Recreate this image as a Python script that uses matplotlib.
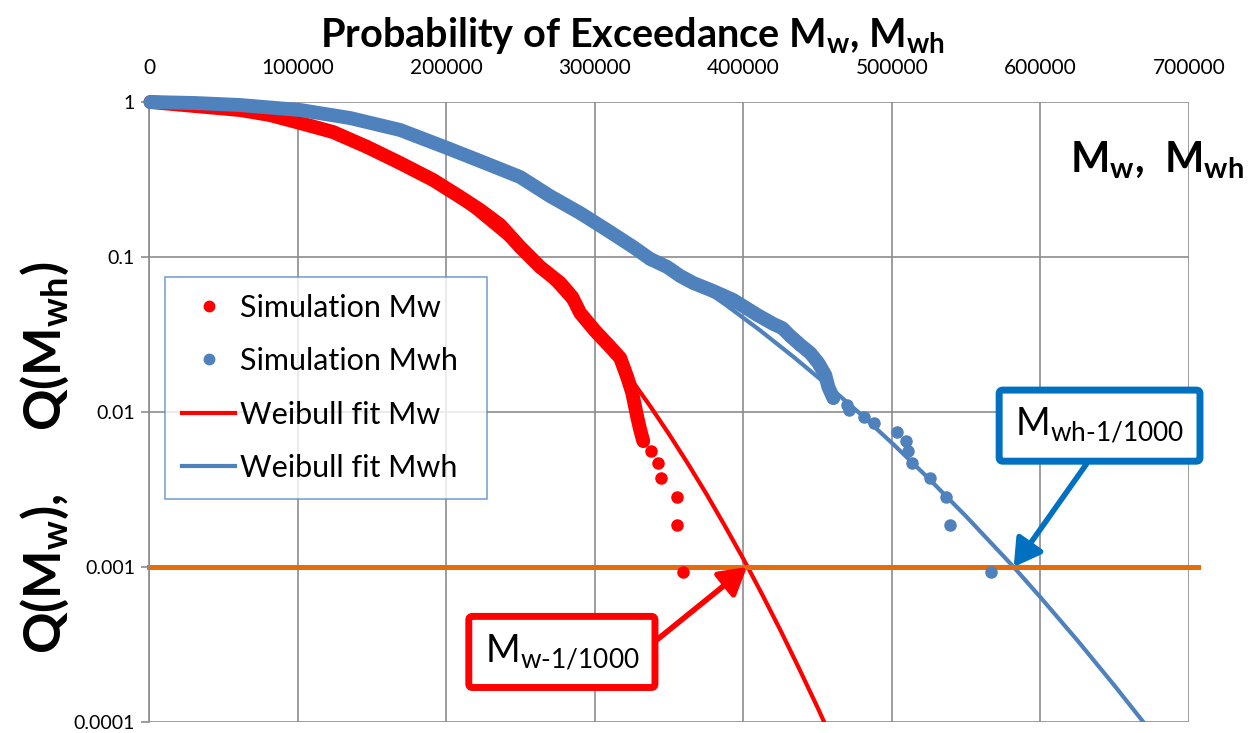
import matplotlib
matplotlib.use('Agg')
import matplotlib.pyplot as plt
from matplotlib.lines import Line2D
from matplotlib.ticker import FixedLocator, FixedFormatter

plt.rcParams['font.family'] = ['Lato', 'DejaVu Sans']
plt.rcParams['mathtext.fontset'] = 'custom'
plt.rcParams['mathtext.rm'] = 'Lato'
plt.rcParams['mathtext.bf'] = 'Lato:bold'
plt.rcParams['mathtext.it'] = 'Lato:italic'

# simulated exceedance probabilities, Mw (dense band first, then the sparse tail)
sim_mw_x = [1000, 30980, 61280, 81480, 101680, 123910, 146800, 169020, 191250, 209430,
            222900, 236360, 249830, 256570, 263300, 276770, 284850, 290240, 300340, 310440,
            317170, 321890, 325250, 328620, 330640, 332660,
            338050, 342760, 344780, 355560, 355560, 359600]
sim_mw_q = [1.0, 0.942, 0.888, 0.824, 0.732, 0.640, 0.513, 0.404, 0.314, 0.244,
            0.201, 0.161, 0.116, 0.100, 0.0862, 0.0680, 0.0552, 0.0435, 0.0333, 0.0263,
            0.0223, 0.0168, 0.0133, 0.00928, 0.00765, 0.00650,
            0.00560, 0.00469, 0.00375, 0.00283, 0.00187, 0.000928]
n_band_mw = 26

# simulated exceedance probabilities, Mwh
sim_mwh_x = [1000, 30980, 61280, 101680, 135350, 169020, 200670, 226260, 249830, 270030,
             290240, 308420, 325930, 337370, 348820, 357580, 366330, 379800, 393270, 409430,
             420200, 426260, 431650, 438390, 445120, 450510, 455220, 457240, 460610,
             470030, 471380, 481480, 488220, 503700, 509760, 511110, 513800, 525920, 536700,
             539390, 567000]
sim_mwh_q = [1.0, 0.985, 0.956, 0.888, 0.788, 0.660, 0.505, 0.404, 0.328, 0.247,
             0.192, 0.149, 0.116, 0.0971, 0.0862, 0.0754, 0.0680, 0.0603, 0.0528, 0.0423,
             0.0370, 0.0348, 0.0309, 0.0271, 0.0240, 0.0207, 0.0173, 0.0145, 0.0123,
             0.0111, 0.0103, 0.00928, 0.00849, 0.00743, 0.00650, 0.00560, 0.00469, 0.00375, 0.00283,
             0.00187, 0.000928]
n_band_mwh = 29

# Weibull fit curves
fit_mw_x = [0, 50000, 100000, 150000, 200000, 250000, 262500, 275000, 287500, 300000,
            312500, 325000, 337500, 350000, 362500, 375000, 387500, 400000, 412500, 425000,
            437500, 450000, 462500, 475000]
fit_mw_q = [1.0, 0.954, 0.781, 0.521, 0.274, 0.110, 0.0837, 0.0625, 0.0458, 0.0329,
            0.0232, 0.0160, 0.01085, 0.00720, 0.00468, 0.00298, 0.00185, 0.00113, 0.000671, 0.000391,
            0.000222, 0.000124, 0.0000675, 0.0000359]
fit_mwh_x = [0, 50000, 100000, 150000, 200000, 250000, 270000, 300000, 325000, 350000,
             375000, 389000, 411000, 434000, 457000, 479000, 501000, 524000, 550000, 582000,
             600000, 625000, 650000, 675000, 700000]
fit_mwh_q = [1.0, 0.965, 0.870, 0.730, 0.510, 0.310, 0.239, 0.169, 0.1233, 0.0874,
             0.0603, 0.0485, 0.0338, 0.0226, 0.0148, 0.00968, 0.00619, 0.00379, 0.00212, 0.001,
             0.000638, 0.000335, 0.000171, 0.0000852, 0.0000414]

q_level = 0.001
mw_1000 = 402500
mwh_1000 = 582000

x_ticks = [0, 100000, 200000, 300000, 400000, 500000, 600000, 700000]
y_ticks = [0.0001, 0.001, 0.01, 0.1, 1]
y_tick_labels = ['0.0001', '0.001', '0.01', '0.1', '1']

RED = '#FF0000'
BLUE = '#4F81BD'
ORANGE = '#E46C0A'
DARKBLUE = '#0070C0'
GRID = '#8C8C8C'

fig = plt.figure(figsize=(12.49, 7.33), dpi=100)
ax = fig.add_axes([149 / 1249, 11 / 733, 1040 / 1249, 620 / 733])
ax.set_yscale('log')
ax.set_xlim(0, 700000)
ax.set_ylim(0.0001, 1)

# fit curves sit underneath the simulation points
ax.plot(fit_mw_x, fit_mw_q, color=RED, lw=3, zorder=2)
ax.plot(fit_mwh_x, fit_mwh_q, color=BLUE, lw=3, zorder=2)

# simulation points: overlapping dots drawn as a thick band, tail as single dots
ax.plot(sim_mw_x[:n_band_mw], sim_mw_q[:n_band_mw], color=RED, lw=10,
        solid_capstyle='round', solid_joinstyle='round', clip_on=False, zorder=3)
ax.plot(sim_mw_x, sim_mw_q, 'o', color=RED, ms=8, clip_on=False, zorder=3)
ax.plot(sim_mwh_x[:n_band_mwh], sim_mwh_q[:n_band_mwh], color=BLUE, lw=10,
        solid_capstyle='round', solid_joinstyle='round', clip_on=False, zorder=4)
ax.plot(sim_mwh_x, sim_mwh_q, 'o', color=BLUE, ms=8, clip_on=False, zorder=4)

ax.plot([0, 706000], [q_level, q_level], color=ORANGE, lw=3.6, clip_on=False, zorder=2.5)

# axes styling
ax.xaxis.tick_top()
ax.set_xticks(x_ticks)
ax.set_xticklabels([str(v) for v in x_ticks])
ax.yaxis.set_major_locator(FixedLocator(y_ticks))
ax.yaxis.set_major_formatter(FixedFormatter(y_tick_labels))
ax.yaxis.set_minor_locator(FixedLocator([]))
ax.tick_params(axis='x', length=0, pad=17, labelsize=15)
ax.tick_params(axis='y', length=6, width=1.2, color=GRID, pad=4, labelsize=14, direction='out')
ax.grid(True, color=GRID, lw=1.2, zorder=0)
ax.set_axisbelow(True)
for side in ['top', 'right', 'bottom']:
    ax.spines[side].set_visible(False)
ax.spines['left'].set_color(GRID)
ax.spines['left'].set_linewidth(1.2)

# legend
handles = [
    Line2D([], [], ls='none', marker='o', color=RED, ms=7.5),
    Line2D([], [], ls='none', marker='o', color=BLUE, ms=7.5),
    Line2D([], [], color=RED, lw=3),
    Line2D([], [], color=BLUE, lw=3),
]
labels = ['Simulation Mw', 'Simulation Mwh', 'Weibull fit Mw', 'Weibull fit Mwh']
leg = ax.legend(handles, labels, loc='upper left',
                bbox_to_anchor=(0.0154, 0.7177, 0.3096, 0.0), mode='expand',
                borderaxespad=0, fontsize=22, frameon=True, fancybox=False,
                handlelength=1.75, handletextpad=0.15, labelspacing=0.83, borderpad=0.55)
leg.get_frame().set_edgecolor('#5B8CC8')
leg.get_frame().set_linewidth(1.2)
leg.set_zorder(10)

# callouts at the 1/1000 exceedance level
ax.annotate(r'M$_{\mathregular{w\text{-}1/1000}}$', xy=(mw_1000, q_level),
            xycoords='data', xytext=(0.397, 0.113), textcoords='axes fraction',
            ha='center', va='center', fontsize=27,
            bbox=dict(boxstyle='round,pad=0.42,rounding_size=0.1', fc='white', ec=RED, lw=5),
            arrowprops=dict(arrowstyle='-|>,head_length=0.6,head_width=0.35', color=RED, lw=4,
                            shrinkA=0, shrinkB=0, relpos=(0.97, 0.35)),
            zorder=11)
ax.annotate(r'M$_{\mathregular{wh\text{-}1/1000}}$', xy=(mwh_1000, q_level),
            xycoords='data', xytext=(0.914, 0.478), textcoords='axes fraction',
            ha='center', va='center', fontsize=27,
            bbox=dict(boxstyle='round,pad=0.42,rounding_size=0.1', fc='white', ec=DARKBLUE, lw=5),
            arrowprops=dict(arrowstyle='-|>,head_length=0.6,head_width=0.35', color=DARKBLUE, lw=4,
                            shrinkA=0, shrinkB=0, relpos=(0.5, 0.0)),
            zorder=11)

# titles
fig.text(632 / 1249, 1 - 36 / 733, r'Probability of Exceedance M$_\mathbf{w}$, M$_\mathbf{wh}$',
         ha='center', va='center', fontsize=28.5, fontweight='bold')
fig.text(1157 / 1249, 1 - 160 / 733, r'M$_\mathbf{w}$,  M$_\mathbf{wh}$',
         ha='center', va='center', fontsize=30, fontweight='bold')
fig.text(45 / 1249, 1 - 458 / 733, r'Q(M$_\mathbf{w}$),     Q(M$_\mathbf{wh}$)',
         ha='center', va='center', rotation=90, fontsize=37, fontweight='bold')

fig.savefig('out.png', dpi=100)
